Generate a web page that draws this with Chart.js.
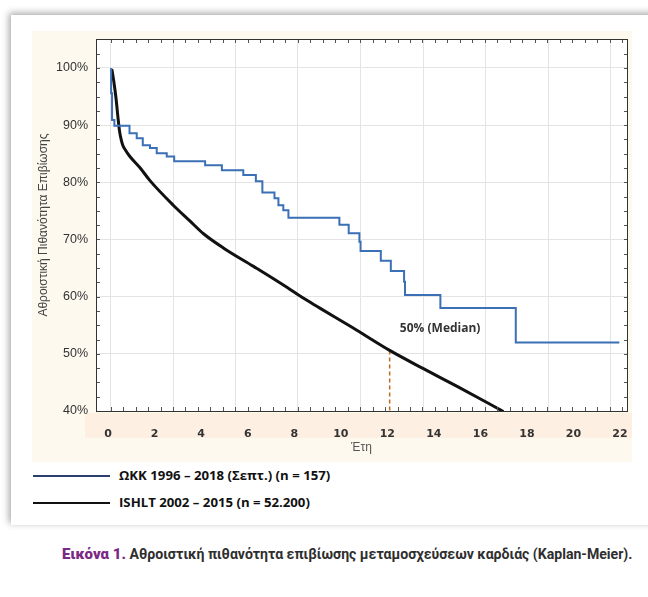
<!DOCTYPE html>
<html lang="el">
<head>
<meta charset="utf-8">
<script src="https://cdn.jsdelivr.net/npm/chart.js@4.4.1/dist/chart.umd.min.js"></script>
<style>
  html, body { margin: 0; padding: 0; background: #fff; }
  body { width: 648px; height: 597px; position: relative; overflow: hidden; font-family: "Liberation Sans", Arial, sans-serif; }
  .card { position: absolute; left: 11px; top: 15px; width: 660px; height: 510px; background: #fff;
          box-shadow: -2px -2px 7px rgba(0,0,0,0.35); }
  .plot { position: absolute; left: 32px; top: 31px; width: 600px; height: 431px; background: #fdf9ef; }
  .key { position: absolute; left: 33px; width: 77px; height: 2px; }
  .keytext { position: absolute; left: 119px; font: bold 13.2px "Open Sans", sans-serif; color: #111; white-space: nowrap; }
  .caption { position: absolute; left: 62px; top: 545px; font: bold 14.1px Roboto, sans-serif; color: #2e2e2e; white-space: nowrap; }
  .caption b { color: #7a2a86; font-size: 15px; }
</style>
</head>
<body>
<div class="card"></div>
<div class="plot"><canvas id="km"></canvas></div>

<div class="key" style="top:475px; background:#2c3e6e;"></div>
<div class="keytext" style="top:466px;">ΩΚΚ 1996 – 2018 (Σεπτ.) (n = 157)</div>
<div class="key" style="top:502px; background:#111;"></div>
<div class="keytext" style="top:493px;">ISHLT 2002 – 2015 (n = 52.200)</div>

<div class="caption"><b>Εικόνα 1.</b> Αθροιστική πιθανότητα επιβίωσης μεταμοσχεύσεων καρδιάς (Kaplan-Meier).</div>

<script>
// ΩΚΚ Kaplan-Meier steps: year of each drop and survival (%) after it
const kkYears    = [0.13, 0.13, 0.17, 0.27, 0.92, 1.23, 1.49, 1.80, 2.09, 2.52, 2.84, 4.17, 4.89, 5.81, 6.35, 6.63,
                    7.15, 7.32, 7.53, 7.75, 9.94, 10.34, 10.80, 10.85, 11.72, 12.15, 12.72, 12.76, 14.28, 17.52, 21.97];
const kkSurvival = [100, 95.6, 90.9, 89.9, 88.6, 87.7, 86.5, 86.0, 85.1, 84.5, 83.7, 83.0, 82.1, 81.3, 80.2, 78.2,
                    77.2, 76.0, 75.1, 73.8, 72.6, 71.1, 69.6, 68.0, 66.3, 64.5, 62.6, 60.3, 58.0, 52.0, 52.0];

// ISHLT smooth survival curve
const ishltYears    = [0.17, 0.25, 0.34, 0.42, 0.49, 0.56, 0.63, 0.75, 0.92, 1.38, 1.8, 2.8, 3.5, 4.1, 5.0,
                       6.25, 7.7, 8.25, 9.1, 10.5, 12.1, 13.55, 15.0, 16.95];
const ishltSurvival = [99.6, 97.5, 94.7, 91.5, 89.0, 87.5, 86.5, 85.6, 84.6, 82.5, 80.3, 76.0, 73.3, 71.0, 68.4,
                       65.3, 61.6, 60.1, 58.0, 54.6, 50.6, 47.4, 44.3, 40.0];

// median marker
const medianYear = 12.1;
const medianSurvival = [50.6, 40];
const medianText = '50% (Median)';
const medianTextAt = [14.27, 54.5];

// axis ticks
const xTicks = [0, 2, 4, 6, 8, 10, 12, 14, 16, 18, 20, 22];
const gridYears = [0.11, 2.79, 5.48, 8.16, 10.85, 13.54, 16.22, 18.91, 21.6];
const yTicks = [40, 50, 60, 70, 80, 90, 100];

const xRange = [-0.52, 22.3];
const yRange = [40, 105.07];

const toPoints = (xs, ys) => xs.map((x, i) => ({ x, y: ys[i] }));

function noPadding(scale) {
  scale.paddingTop = 0;
  scale.paddingBottom = 0;
  scale.paddingLeft = 0;
  scale.paddingRight = 0;
}

const bandPlugin = {
  id: 'band',
  beforeDraw(chart) {
    const { ctx, chartArea, width } = chart;
    ctx.save();
    ctx.fillStyle = '#fdf0e3';
    ctx.fillRect(53, chartArea.bottom + 2, width - 53, 25);
    ctx.fillStyle = '#fff';
    ctx.fillRect(chartArea.left, chartArea.top, chartArea.right - chartArea.left, chartArea.bottom - chartArea.top);
    ctx.restore();
  }
};

const framePlugin = {
  id: 'frame',
  afterDatasetsDraw(chart) {
    const { ctx, chartArea: a, scales } = chart;
    ctx.save();
    // annotation text
    ctx.font = 'bold 12px "Open Sans", sans-serif';
    ctx.fillStyle = '#333';
    ctx.textAlign = 'center';
    ctx.textBaseline = 'middle';
    ctx.fillText(medianText, scales.x.getPixelForValue(medianTextAt[0]), scales.y.getPixelForValue(medianTextAt[1]));

    // minor ticks
    ctx.strokeStyle = '#555';
    ctx.lineWidth = 1;
    ctx.beginPath();
    const step = (gridYears[1] - gridYears[0]) / 5;
    for (let v = gridYears[0]; v <= xRange[1]; v += step) {
      const px = Math.round(scales.x.getPixelForValue(v)) + 0.5;
      ctx.moveTo(px, a.bottom); ctx.lineTo(px, a.bottom - 4);
      ctx.moveTo(px, a.top); ctx.lineTo(px, a.top + 4);
    }
    for (let v = 40; v <= yRange[1]; v += 2.5) {
      const py = Math.round(scales.y.getPixelForValue(v)) + 0.5;
      ctx.moveTo(a.left, py); ctx.lineTo(a.left + 4, py);
      ctx.moveTo(a.right, py); ctx.lineTo(a.right - 3, py);
    }
    ctx.stroke();

    // frame
    ctx.strokeStyle = '#333';
    ctx.strokeRect(Math.round(a.left) + 0.5, Math.round(a.top) + 0.5,
                   Math.round(a.right - a.left), Math.round(a.bottom - a.top));
    ctx.restore();
  }
};

new Chart(document.getElementById('km'), {
  type: 'line',
  data: {
    datasets: [
      {
        label: 'ΩΚΚ 1996 – 2018 (Σεπτ.) (n = 157)',
        data: toPoints(kkYears, kkSurvival),
        stepped: true,
        borderColor: '#3b6fb6',
        borderWidth: 2,
        pointRadius: 0
      },
      {
        label: 'ISHLT 2002 – 2015 (n = 52.200)',
        data: toPoints(ishltYears, ishltSurvival),
        borderColor: '#111',
        borderWidth: 3,
        borderCapStyle: 'round',
        cubicInterpolationMode: 'monotone',
        pointRadius: 0
      },
      {
        label: 'Median',
        data: toPoints([medianYear, medianYear], medianSurvival),
        borderColor: '#c0691f',
        borderWidth: 1.5,
        borderDash: [4, 3],
        pointRadius: 0
      }
    ]
  },
  options: {
    responsive: true,
    maintainAspectRatio: false,
    animation: false,
    layout: { padding: { top: 8, right: 5, bottom: 0, left: 0 } },
    plugins: {
      legend: { display: false },
      tooltip: { enabled: false }
    },
    scales: {
      x: {
        type: 'linear',
        min: xRange[0],
        max: xRange[1],
        afterBuildTicks(scale) { scale.ticks = xTicks.map(value => ({ value })); },
        afterFit(scale) { scale.height = 51; noPadding(scale); },
        ticks: {
          color: '#333',
          padding: 9,
          font: { family: '"DejaVu Sans"', size: 11, weight: 'bold' }
        },
        grid: { display: false },
        border: { display: false },
        title: {
          display: true,
          text: 'Έτη',
          color: '#555',
          padding: { top: 0, bottom: 7 },
          font: { family: '"Liberation Sans"', size: 12 }
        }
      },
      x2: {
        type: 'linear',
        position: 'top',
        min: xRange[0],
        max: xRange[1],
        afterBuildTicks(scale) { scale.ticks = gridYears.map(value => ({ value })); },
        afterFit(scale) { scale.height = 0; noPadding(scale); },
        ticks: { display: false },
        grid: { color: '#e4e4e4', drawTicks: false },
        border: { display: false }
      },
      y: {
        type: 'linear',
        min: yRange[0],
        max: yRange[1],
        afterBuildTicks(scale) { scale.ticks = yTicks.map(value => ({ value })); },
        afterFit(scale) { scale.width = 64; noPadding(scale); },
        ticks: {
          color: '#333',
          padding: 8,
          font: { family: '"Liberation Sans"', size: 12.5 },
          callback: v => v + '%'
        },
        grid: { color: '#e4e4e4', drawTicks: false },
        border: { display: false },
        title: {
          display: true,
          text: 'Αθροιστική Πιθανότητα Επιβίωσης',
          color: '#444',
          padding: { top: 4, bottom: 0 },
          font: { family: '"Liberation Sans"', size: 12 }
        }
      }
    }
  },
  plugins: [bandPlugin, framePlugin]
});
</script>
</body>
</html>
